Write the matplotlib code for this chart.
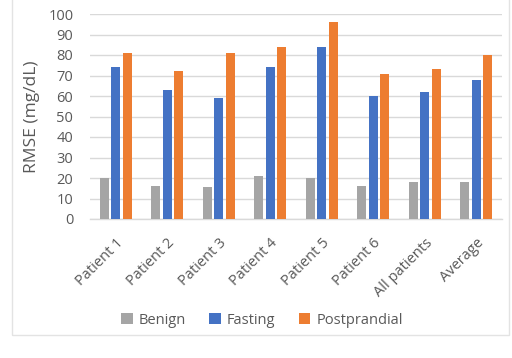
import numpy as np
import matplotlib
matplotlib.use("Agg")
import matplotlib.pyplot as plt
from matplotlib.patches import Rectangle

plt.rcParams['font.family'] = ['Open Sans', 'DejaVu Sans']

# Data
categories = ["Patient 1", "Patient 2", "Patient 3", "Patient 4",
              "Patient 5", "Patient 6", "All patients", "Average"]
benign = [20, 16, 15.5, 21, 20, 16, 18, 18]
fasting = [74, 63, 59, 74, 84, 60, 62, 68]
postprandial = [81, 72, 81, 84, 96, 70.5, 73, 80]

series = {
    "Benign": (benign, "#a5a5a5"),
    "Fasting": (fasting, "#4472c4"),
    "Postprandial": (postprandial, "#ed7d31"),
}

fig = plt.figure(figsize=(5.12, 3.58), dpi=100)
ax = fig.add_axes([90 / 512, 1 - 219 / 358, 412 / 512, 205 / 358])

# light chart border like the office chart frame
fig.patches.append(Rectangle((12 / 512, 1 - 335 / 358), 497 / 512, 1.0,
                             transform=fig.transFigure, fill=False,
                             edgecolor="#e3e3e3", linewidth=1))

x = np.arange(len(categories))
width = 0.175
step = 0.225
for i, (name, (vals, color)) in enumerate(series.items()):
    ax.bar(x + (i - 1) * step, vals, width, color=color, label=name, zorder=3)

ax.set_xlim(-0.5, len(categories) - 0.5)
ax.set_ylim(0, 100)
ax.set_yticks(range(0, 101, 10))
ax.yaxis.grid(True, color="#d9d9d9", linewidth=1, zorder=0)
ax.set_axisbelow(True)

for s in ["top", "right", "left"]:
    ax.spines[s].set_visible(False)
ax.spines["bottom"].set_color("#d9d9d9")
ax.spines["bottom"].set_linewidth(1)

ax.set_xticks(x)
ax.set_xticklabels(categories, rotation=45, ha="right", rotation_mode="anchor",
                   fontsize=10.5, color="#595959")
ax.tick_params(axis="x", length=0, pad=12)
ax.tick_params(axis="y", length=0, pad=12, labelsize=10.5, labelcolor="#595959")

ax.set_ylabel("RMSE (mg/dL)", fontsize=12.5, color="#595959", labelpad=6)

leg = fig.legend(loc="center", bbox_to_anchor=(262 / 512, 1 - 320 / 358), ncol=3,
                 frameon=False, fontsize=10.5, handlelength=0.8, handleheight=0.8,
                 columnspacing=1.6, handletextpad=0.4)
for t in leg.get_texts():
    t.set_color("#595959")

fig.savefig("out.png", dpi=100)
